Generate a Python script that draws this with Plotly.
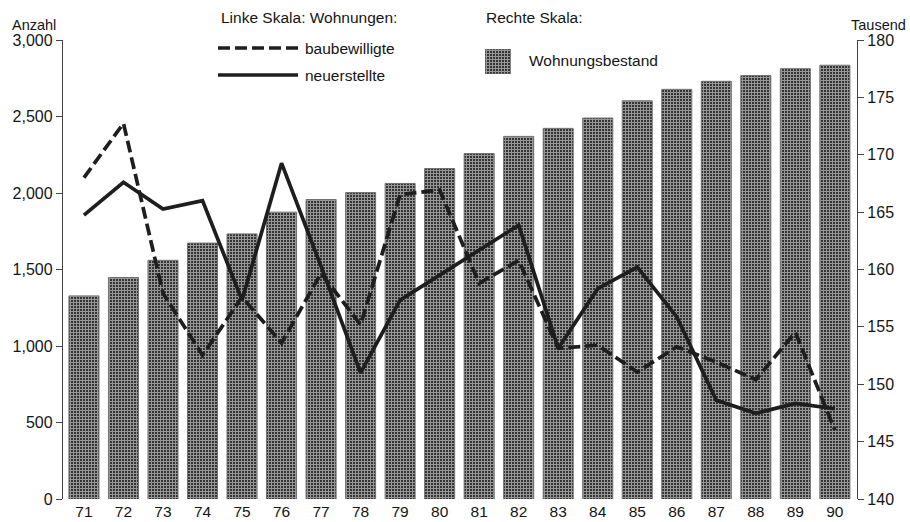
import plotly.graph_objects as go

# Jahre (1971-1990)
jahre = ["71", "72", "73", "74", "75", "76", "77", "78", "79", "80",
         "81", "82", "83", "84", "85", "86", "87", "88", "89", "90"]

# Linke Skala: Wohnungen (Anzahl)
baubewilligte = [2100, 2455, 1345, 940, 1320, 1020, 1475, 1140, 1990, 2020,
                 1410, 1560, 985, 1005, 830, 995, 895, 780, 1090, 450]
neuerstellte = [1855, 2070, 1895, 1950, 1300, 2195, 1520, 825, 1300, 1465,
                1625, 1790, 985, 1375, 1515, 1190, 645, 560, 625, 590]

# Rechte Skala: Wohnungsbestand (Tausend)
wohnungsbestand = [157.7, 159.3, 160.8, 162.3, 163.1, 165.0, 166.1, 166.7, 167.5, 168.8,
                   170.1, 171.6, 172.3, 173.2, 174.7, 175.7, 176.4, 176.9, 177.5, 177.8]

W, H = 910, 522
FONT = "Liberation Sans, Arial, sans-serif"
INK = "#151515"
BAR_PATTERN = dict(shape="+", fgcolor="white", bgcolor="#2e2e2e", size=3, solidity=0.6)
BAR_MARKER = dict(color="#2e2e2e", line=dict(color="#707070", width=1), pattern=BAR_PATTERN)

def px_x(p):
    return p / W

def px_y(p):
    return 1 - p / H

fig = go.Figure()

fig.add_trace(go.Bar(
    x=jahre, y=wohnungsbestand, name="Wohnungsbestand",
    xaxis="x", yaxis="y", width=0.76, marker=BAR_MARKER,
    showlegend=False,
))

fig.add_trace(go.Scatter(
    x=jahre, y=baubewilligte, name="baubewilligte", mode="lines",
    xaxis="x", yaxis="y2",
    line=dict(color="#1e1e1e", width=3.7, dash="12px,5px"),
    showlegend=False,
))
fig.add_trace(go.Scatter(
    x=jahre, y=neuerstellte, name="neuerstellte", mode="lines",
    xaxis="x", yaxis="y2",
    line=dict(color="#1e1e1e", width=3.7),
    showlegend=False,
))

# Legendensymbol für den Wohnungsbestand
fig.add_trace(go.Bar(
    x=[0], y=[1], xaxis="x3", yaxis="y3", width=1, marker=BAR_MARKER,
    showlegend=False, hoverinfo="skip",
))

x_dom = [px_x(63), px_x(857)]
y_dom = [px_y(499), px_y(40)]

tick_font = dict(size=16, color=INK)

fig.update_layout(
    width=W, height=H,
    margin=dict(l=0, r=0, t=0, b=0, autoexpand=False),
    paper_bgcolor="white", plot_bgcolor="white",
    font=dict(family=FONT, color=INK, size=15),
    xaxis=dict(
        domain=x_dom, type="category", range=[-0.53, 19.56], automargin=False,
        showline=False, showgrid=False, zeroline=False, ticks="",
        tickfont=dict(size=15.5, color=INK), ticklabelstandoff=1,
    ),
    yaxis=dict(
        domain=y_dom, side="right", range=[140, 180], automargin=False,
        tickvals=[140, 145, 150, 155, 160, 165, 170, 175, 180],
        showgrid=False, zeroline=False, showline=True, linecolor="#444", linewidth=1.3,
        ticks="outside", ticklen=6, tickcolor="#444", tickwidth=1.3,
        tickfont=tick_font,
    ),
    yaxis2=dict(
        overlaying="y", side="left", anchor="x", range=[0, 3000], automargin=False,
        tickvals=[0, 500, 1000, 1500, 2000, 2500, 3000], tickformat=",",
        showgrid=False, zeroline=False, showline=True, linecolor="#444", linewidth=1.3,
        ticks="outside", ticklen=6, tickcolor="#444", tickwidth=1.3,
        tickfont=tick_font,
    ),
    xaxis3=dict(domain=[px_x(485), px_x(511)], range=[-0.5, 0.5], visible=False,
                fixedrange=True, automargin=False, anchor="y3"),
    yaxis3=dict(domain=[px_y(74), px_y(49)], range=[0, 1], visible=False,
                fixedrange=True, automargin=False, anchor="x3"),
)

annotations = [
    dict(text="Anzahl", x=px_x(10), y=px_y(25), xanchor="left", yanchor="middle", font=dict(size=14.5)),
    dict(text="Tausend", x=px_x(908), y=px_y(25), xanchor="right", yanchor="middle", font=dict(size=14.5)),
    dict(text="Linke Skala: Wohnungen:", x=px_x(219), y=px_y(18), xanchor="left", yanchor="middle"),
    dict(text="baubewilligte", x=px_x(303), y=px_y(48), xanchor="left", yanchor="middle"),
    dict(text="neuerstellte", x=px_x(303), y=px_y(75), xanchor="left", yanchor="middle"),
    dict(text="Rechte Skala:", x=px_x(484), y=px_y(18), xanchor="left", yanchor="middle"),
    dict(text="Wohnungsbestand", x=px_x(527), y=px_y(61), xanchor="left", yanchor="middle"),
]
for a in annotations:
    a.update(xref="paper", yref="paper", showarrow=False)
    a.setdefault("font", dict(size=15.5))
fig.update_layout(annotations=annotations)

fig.update_layout(shapes=[
    dict(type="line", xref="paper", yref="paper", x0=px_x(218), x1=px_x(298), y0=px_y(48), y1=px_y(48),
         line=dict(color="#1e1e1e", width=3.7, dash="12px,5px")),
    dict(type="line", xref="paper", yref="paper", x0=px_x(218), x1=px_x(298), y0=px_y(75), y1=px_y(75),
         line=dict(color="#1e1e1e", width=3.7)),
])

fig.write_html("out.html")
